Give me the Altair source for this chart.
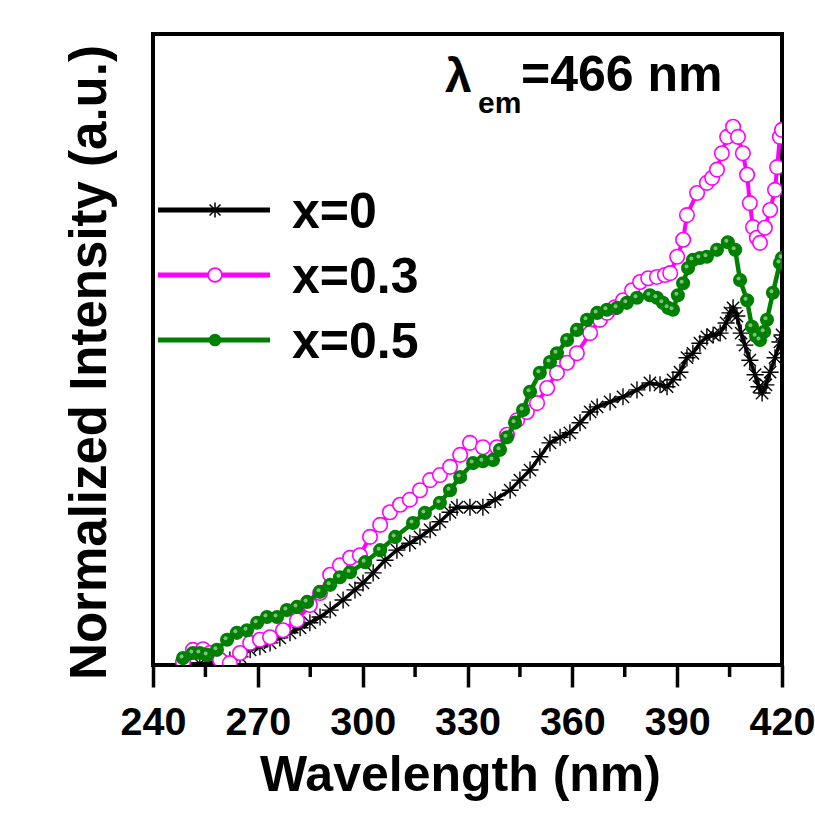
import altair as alt
import pandas as pd

# ---------------- data ----------------
series_names = ["x=0", "x=0.3", "x=0.5"]
series_colors = ["#000000", "#FF00FF", "#008000"]

wl_x0 = [249.7, 253.4, 257.7, 262.0, 264.9, 267.8, 270.6, 273.5, 276.3, 279.2,
         282.1, 284.9, 287.8, 290.7, 294.4, 297.8, 300.1, 303.0, 306.4, 309.8,
         313.5, 316.4, 319.3, 322.1, 325.0, 327.0, 330.7, 334.4, 337.9, 342.2,
         345.0, 347.9, 350.7, 353.6, 356.5, 359.3, 362.2, 365.1, 367.1, 370.8,
         374.5, 378.5, 382.2, 385.1, 387.1, 388.8, 390.8, 392.8, 394.5, 396.5,
         398.5, 400.3, 402.3, 404.0, 405.1, 406.0, 407.1, 408.3, 409.4, 410.8,
         412.3, 413.4, 414.3, 415.4, 416.6, 418.0, 419.4, 420.0]
val_x0 = [0.2, 0.2, 0.5, 0.8, 1.3, 2.4, 2.9, 3.5, 4.3, 5.1,
          5.9, 6.7, 7.6, 8.7, 10.3, 11.9, 13.0, 14.6, 16.6, 18.2,
          19.3, 20.3, 21.4, 22.7, 24.2, 25.0, 25.0, 25.0, 26.2, 27.7,
          29.3, 30.9, 33.0, 35.2, 36.1, 36.8, 38.4, 40.1, 40.9, 41.7,
          42.5, 43.6, 44.7, 44.4, 44.1, 45.2, 46.4, 48.7, 49.4, 51.0,
          52.0, 52.3, 52.6, 54.2, 55.8, 56.6, 55.3, 52.6, 50.7, 48.3,
          46.0, 44.1, 43.1, 44.4, 46.4, 48.7, 51.2, 52.3]

wl_x03 = [248.6, 251.4, 254.3, 256.3, 259.2, 262.0, 264.9, 267.8, 270.6, 273.5,
          277.2, 281.2, 284.9, 287.8, 290.7, 293.5, 296.4, 299.2, 302.1, 305.0,
          307.8, 310.7, 313.5, 316.4, 319.3, 322.1, 325.0, 327.9, 330.7, 334.4,
          338.4, 341.3, 344.2, 347.0, 349.9, 352.8, 355.6, 358.5, 361.3, 365.1,
          367.9, 369.9, 372.2, 374.5, 377.1, 379.4, 381.7, 384.2, 386.5, 388.0,
          390.0, 391.7, 392.8, 395.7, 398.5, 400.0, 401.4, 402.8, 404.3, 406.0,
          407.4, 408.8, 410.0, 410.8, 411.7, 412.8, 413.7, 415.1, 416.6, 418.0,
          418.6, 419.4, 420.0]
val_x03 = [0.5, 2.4, 2.5, 1.9, 0.8, 0.3, 1.9, 3.5, 4.0, 4.4,
           5.5, 7.1, 9.5, 11.4, 14.3, 15.8, 17.0, 17.4, 20.3, 22.2,
           24.2, 25.4, 26.2, 27.7, 29.3, 30.1, 31.4, 33.3, 35.2, 34.5,
           34.5, 36.5, 38.8, 40.1, 41.5, 43.9, 46.3, 47.9, 49.4, 52.6,
           54.7, 55.8, 56.7, 57.8, 59.4, 60.7, 61.3, 61.5, 61.8, 62.1,
           64.7, 67.4, 71.3, 74.8, 76.4, 77.2, 78.5, 81.1, 83.7, 85.3,
           83.7, 81.1, 77.7, 73.2, 69.4, 67.7, 66.9, 69.3, 72.1, 75.3,
           78.9, 83.7, 84.8]

wl_x05 = [248.6, 251.4, 253.4, 255.5, 258.3, 261.2, 264.0, 266.9, 269.8, 272.6,
          275.5, 278.3, 281.2, 284.1, 287.8, 290.7, 293.5, 296.4, 300.7, 305.0,
          309.3, 314.4, 317.8, 322.1, 325.0, 327.9, 331.6, 334.4, 337.3, 339.3,
          341.3, 343.6, 345.9, 347.9, 350.7, 353.6, 355.6, 358.5, 361.3, 364.2,
          367.1, 369.9, 372.8, 375.6, 378.5, 382.2, 384.2, 385.9, 387.4, 388.8,
          390.2, 391.7, 393.1, 394.5, 396.5, 398.5, 401.4, 404.5, 406.6, 408.0,
          410.0, 411.4, 412.6, 413.7, 414.9, 415.7, 417.4, 419.4, 420.0]
val_x05 = [1.1, 1.9, 1.9, 1.6, 2.4, 4.0, 5.1, 5.5, 6.7, 7.6,
           7.6, 8.7, 9.2, 10.0, 11.6, 12.7, 13.9, 14.7, 16.3, 18.2,
           20.3, 22.5, 24.1, 25.7, 27.7, 29.8, 32.0, 32.3, 32.5, 34.1,
           36.1, 38.4, 40.4, 43.3, 46.3, 48.0, 49.4, 51.5, 53.1, 54.7,
           55.8, 56.3, 56.6, 57.4, 58.2, 58.6, 58.2, 57.4, 56.6, 56.3,
           58.6, 60.5, 62.9, 64.2, 64.5, 64.7, 65.8, 67.0, 65.8, 61.0,
           57.8, 53.6, 52.1, 51.5, 52.8, 54.7, 59.0, 63.7, 64.5]

major_ticks = [240, 270, 300, 330, 360, 390, 420]
minor_ticks = [255, 285, 315, 345, 375, 405]

# ---------------- styling ----------------
FONT = "Liberation Sans, Arial, Helvetica, sans-serif"
W, H = 629, 631
ASTERISK = "M-1,0L1,0M0,-1L0,1M-0.72,-0.72L0.72,0.72M-0.72,0.72L0.72,-0.72"

xscale = alt.Scale(domain=[240, 420], nice=False, zero=False)
yscale = alt.Scale(domain=[0, 100], nice=False, zero=False)

x_axis = alt.Axis(
    values=major_ticks, format="d", grid=False, domain=False,
    ticks=True, tickSize=22, tickWidth=3.5, tickColor="black",
    labelFont=FONT, labelFontSize=39.5, labelFontWeight="bold", labelColor="black",
    labelBaseline="alphabetic", labelPadding=47, labelFlush=False, labelOverlap=False,
    title="Wavelength (nm)", titleFont=FONT, titleFontSize=50, titleFontWeight="bold",
    titleColor="black", titleBaseline="alphabetic", titleX=307, titleY=125,
)
y_axis = alt.Axis(
    labels=False, ticks=False, domain=False, grid=False,
    title="Normalized Intensity (a.u.)", titleFont=FONT, titleFontSize=51,
    titleFontWeight="bold", titleColor="black", titlePadding=37, titleY=328,
)

X = alt.X("wl:Q", scale=xscale, axis=x_axis)
Y = alt.Y("val:Q", scale=yscale, axis=y_axis)

df0 = pd.DataFrame({"wl": wl_x0, "val": val_x0})
df03 = pd.DataFrame({"wl": wl_x03, "val": val_x03})
df05 = pd.DataFrame({"wl": wl_x05, "val": val_x05})

layers = []

# x = 0 : black line with asterisks
layers.append(alt.Chart(df0).mark_line(color=series_colors[0], strokeWidth=3.5, clip=True).encode(x=X, y=Y))
layers.append(alt.Chart(df0).mark_point(shape=ASTERISK, size=290, filled=False, color=series_colors[0],
                                        strokeWidth=1.4, opacity=1, clip=True).encode(x=X, y=Y))
# x = 0.3 : magenta line with open circles
layers.append(alt.Chart(df03).mark_line(color=series_colors[1], strokeWidth=4, clip=True).encode(x=X, y=Y))
layers.append(alt.Chart(df03).mark_point(shape="circle", size=210, filled=True, fill="white",
                                         stroke=series_colors[1], strokeWidth=1.6, opacity=1,
                                         clip=True).encode(x=X, y=Y))
# x = 0.5 : green line with filled balls
layers.append(alt.Chart(df05).mark_line(color=series_colors[2], strokeWidth=4.5, clip=True).encode(x=X, y=Y))
layers.append(alt.Chart(df05).mark_point(shape="circle", size=200, filled=True, color=series_colors[2],
                                         opacity=1, clip=True).encode(x=X, y=Y))
layers.append(alt.Chart(df05).mark_point(shape="circle", size=16, filled=True, color="#8cc88c",
                                         opacity=0.9, xOffset=-1.5, yOffset=-1.5,
                                         clip=True).encode(x=X, y=Y))

# minor ticks on the x axis
minor_df = pd.DataFrame({"wl": minor_ticks})
layers.append(alt.Chart(minor_df).mark_rule(color="black", strokeWidth=3.5, clip=False).encode(
    x=alt.X("wl:Q", scale=xscale, axis=x_axis), y=alt.value(H), y2=alt.value(H + 12)))

# legend (drawn by hand to show line + marker)
legend_rows = [176, 241, 306]
marker_specs = [
    dict(shape=ASTERISK, size=230, filled=False, color=series_colors[0], strokeWidth=1.5),
    dict(shape="circle", size=190, filled=True, fill="white", stroke=series_colors[1], strokeWidth=1.6),
    dict(shape="circle", size=160, filled=True, color=series_colors[2]),
]
for i, name in enumerate(series_names):
    ly = legend_rows[i]
    leg_df = pd.DataFrame({"name": [name]})
    layers.append(alt.Chart(leg_df).mark_rule(color=series_colors[i], strokeWidth=5).encode(
        x=alt.value(5), x2=alt.value(117), y=alt.value(ly)))
    layers.append(alt.Chart(leg_df).mark_point(opacity=1, **marker_specs[i]).encode(
        x=alt.value(62), y=alt.value(ly)))
    layers.append(alt.Chart(leg_df).mark_text(font=FONT, fontSize=50, fontWeight="bold", color="black",
                                              align="left", baseline="alphabetic").encode(
        x=alt.value(139), y=alt.value(ly + 18), text="name:N"))

# annotation lambda_em = 466 nm
ann_df = pd.DataFrame({"t": ["λ", "em", "=466 nm"]})
layers.append(alt.Chart(ann_df).transform_filter(alt.datum.t == "λ").mark_text(
    font=FONT, fontSize=48, fontWeight="bold", color="black", align="left", baseline="alphabetic").encode(
    x=alt.value(292), y=alt.value(58), text="t:N"))
layers.append(alt.Chart(ann_df).transform_filter(alt.datum.t == "em").mark_text(
    font=FONT, fontSize=30, fontWeight="bold", color="black", align="left", baseline="alphabetic").encode(
    x=alt.value(325), y=alt.value(79), text="t:N"))
layers.append(alt.Chart(ann_df).transform_filter(alt.datum.t == "=466 nm").mark_text(
    font=FONT, fontSize=50, fontWeight="bold", color="black", align="left", baseline="alphabetic").encode(
    x=alt.value(368), y=alt.value(57), text="t:N"))

chart = alt.layer(*layers).properties(
    width=W, height=H,
    padding={"left": 153, "top": 34, "right": 33, "bottom": 152},
    autosize=alt.AutoSizeParams(type="none"),
).configure(
    background="white",
    view=alt.ViewConfig(stroke="black", strokeWidth=4),
)

chart.save("out.html", embed_options={"renderer": "svg", "actions": False})
